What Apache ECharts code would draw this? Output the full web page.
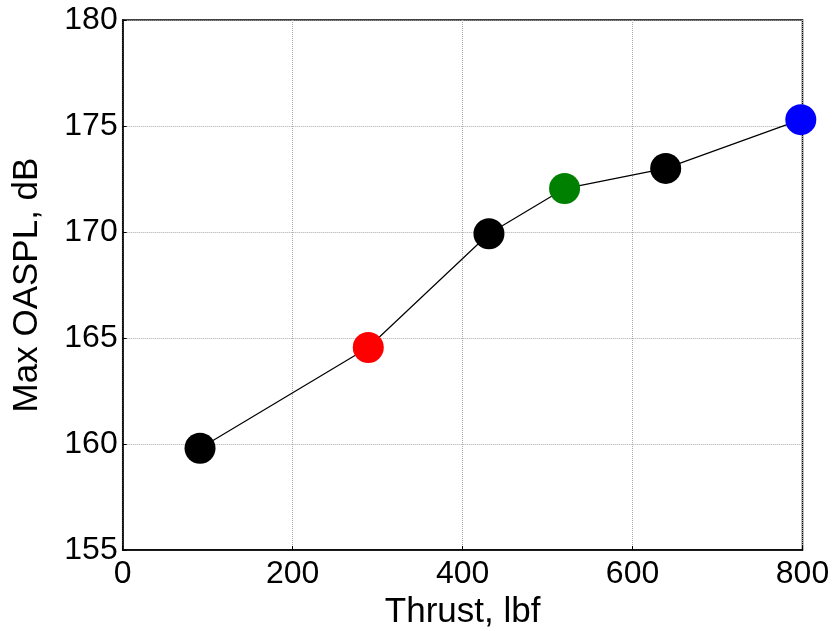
<!DOCTYPE html>
<html>
<head>
<meta charset="utf-8">
<script src="https://cdn.jsdelivr.net/npm/echarts@6/dist/echarts.min.js"></script>
<style>html,body{margin:0;padding:0;background:#fff;}#c{width:837px;height:631px;}</style>
</head>
<body>
<div id="c"></div>
<script>
var thrust = [91, 289, 431, 520, 639, 798];
var oaspl = [159.8, 164.55, 169.92, 172.05, 173.0, 175.3];
var pointColors = ['#000000', '#ff0000', '#000000', '#008000', '#000000', '#0000ff'];
var xTitle = 'Thrust, lbf';
var yTitle = 'Max OASPL, dB';

var chart = echarts.init(document.getElementById('c'));
var font = 'Liberation Sans, Arial, sans-serif';
chart.setOption({
  animation: false,
  grid: {left: 122.7, right: 34.5, top: 20, bottom: 81, outerBoundsMode: 'none', containLabel: false,
         show: true, borderColor: '#000', borderWidth: 1.5, backgroundColor: '#fff'},
  xAxis: {
    type: 'value', min: 0, max: 800, interval: 200,
    name: xTitle, nameLocation: 'middle', nameGap: 34,
    nameTextStyle: {fontFamily: font, fontSize: 35, color: '#000'},
    axisLine: {show: true, onZero: false, lineStyle: {color: '#000', width: 1.5}},
    axisTick: {show: true, inside: true, length: 4, lineStyle: {color: '#000'}},
    axisLabel: {fontFamily: font, fontSize: 32, color: '#000', margin: 8},
    splitLine: {show: true, lineStyle: {color: '#aaa', width: 1, type: 'dotted'}}
  },
  yAxis: {
    type: 'value', min: 155, max: 180, interval: 5,
    name: yTitle, nameLocation: 'middle', nameGap: 78, nameRotate: 90,
    nameTextStyle: {fontFamily: font, fontSize: 35, color: '#000'},
    axisLine: {show: true, onZero: false, lineStyle: {color: '#000', width: 1.5}},
    axisTick: {show: true, inside: true, length: 4, lineStyle: {color: '#000'}},
    axisLabel: {fontFamily: font, fontSize: 32, color: '#000', margin: 5},
    splitLine: {show: true, lineStyle: {color: '#aaa', width: 1, type: 'dotted'}}
  },
  series: [{
    type: 'line',
    data: thrust.map(function (x, i) {
      return {value: [x, oaspl[i]], itemStyle: {color: pointColors[i], borderWidth: 0}};
    }),
    symbol: 'circle',
    symbolSize: 31,
    lineStyle: {color: '#000', width: 1.2},
    itemStyle: {borderWidth: 0},
    z: 3
  }]
});
</script>
</body>
</html>
